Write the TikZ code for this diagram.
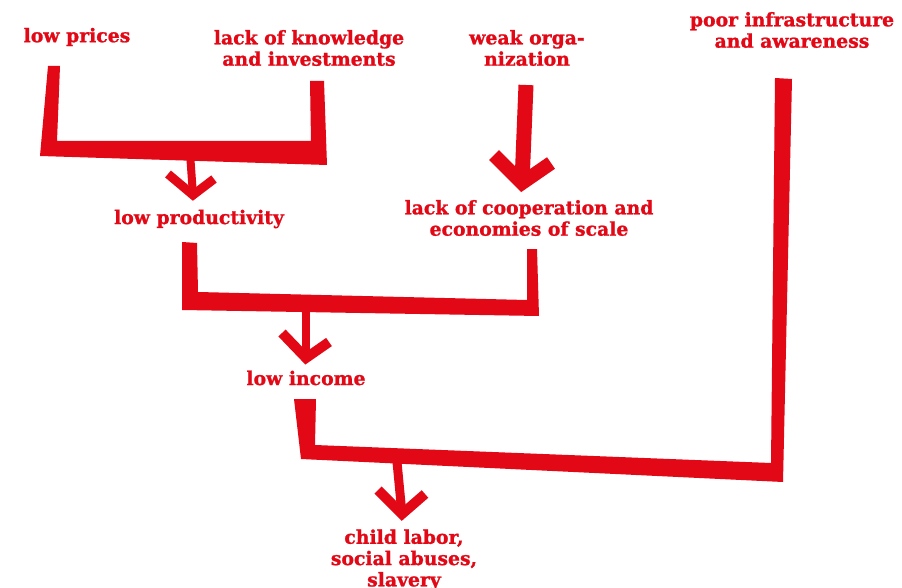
\documentclass[tikz,border=0pt]{standalone}
\usepackage{fontspec}
\setmainfont{DejaVu Serif}[BoldFeatures={FakeBold=1.2}]
\definecolor{brandred}{RGB}{226,8,22}
\begin{document}
\begin{tikzpicture}[x=1pt,y=-1pt,
  lbl/.style={text=brandred,font=\bfseries\fontsize{18.8}{21.3}\selectfont,align=center,inner sep=0pt},
  bracketshape/.style={fill=brandred,draw=none},
  stem/.style={draw=brandred,line cap=butt},
  chevron/.style={draw=brandred,line cap=butt,line join=miter}]
\useasboundingbox (0,0) rectangle (902,588);
% labels
\node[lbl] (prices) at (77,37) {low prices};
\node[lbl] (knowledge) at (309,48) {lack of knowledge\\and investments};
\node[lbl] (weak) at (527,48) {weak orga-\\nization};
\node[lbl] (infra) at (792,30) {poor infrastructure\\and awareness};
\node[lbl] (prod) at (199,219) {low productivity};
\node[lbl] (coop) at (529,218) {lack of cooperation and\\economies of scale};
\node[lbl] (income) at (306,378) {low income};
\node[lbl] (child) at (404,560) {child labor,\\social abuses,\\slavery};
% brackets
\fill[bracketshape] (48,66) -- (60,66) -- (57,141) -- (311,141) -- (310,81) -- (324,81) -- (327,165) -- (40,156) -- cycle;
\fill[bracketshape] (182,242) -- (197,243) -- (198,292) -- (527,300) -- (527,249) -- (537,249) -- (539,316) -- (182,310) -- cycle;
\fill[bracketshape] (294,399) -- (316,399) -- (315,445) -- (771,463) -- (775,78) -- (792,79) -- (783,482) -- (301,459) -- cycle;
% arrow anchor points
\coordinate (a1s) at (190,153); \coordinate (a1t) at (193,195);
\coordinate (a2s) at (526,85);  \coordinate (a2t) at (522,183);
\coordinate (a3s) at (306,308); \coordinate (a3t) at (306,358);
\coordinate (a4s) at (397,462); \coordinate (a4t) at (402,514);
% arrows
\draw[stem,line width=8pt] (a1s) -- (a1t);
\draw[chevron,line width=9pt] (168,174) -- (a1t) -- (214,179);
\draw[stem,line width=15pt] (a2s) -- (a2t);
\draw[chevron,line width=14pt] (494,155) -- (a2t) -- (551,163);
\draw[stem,line width=8pt] (a3s) -- (a3t);
\draw[chevron,line width=10pt] (282,333) -- (a3t) -- (329,342);
\draw[stem,line width=9pt] (a4s) -- (a4t);
\draw[chevron,line width=10pt] (378,490) -- (a4t) -- (425,494);
\end{tikzpicture}
\end{document}
